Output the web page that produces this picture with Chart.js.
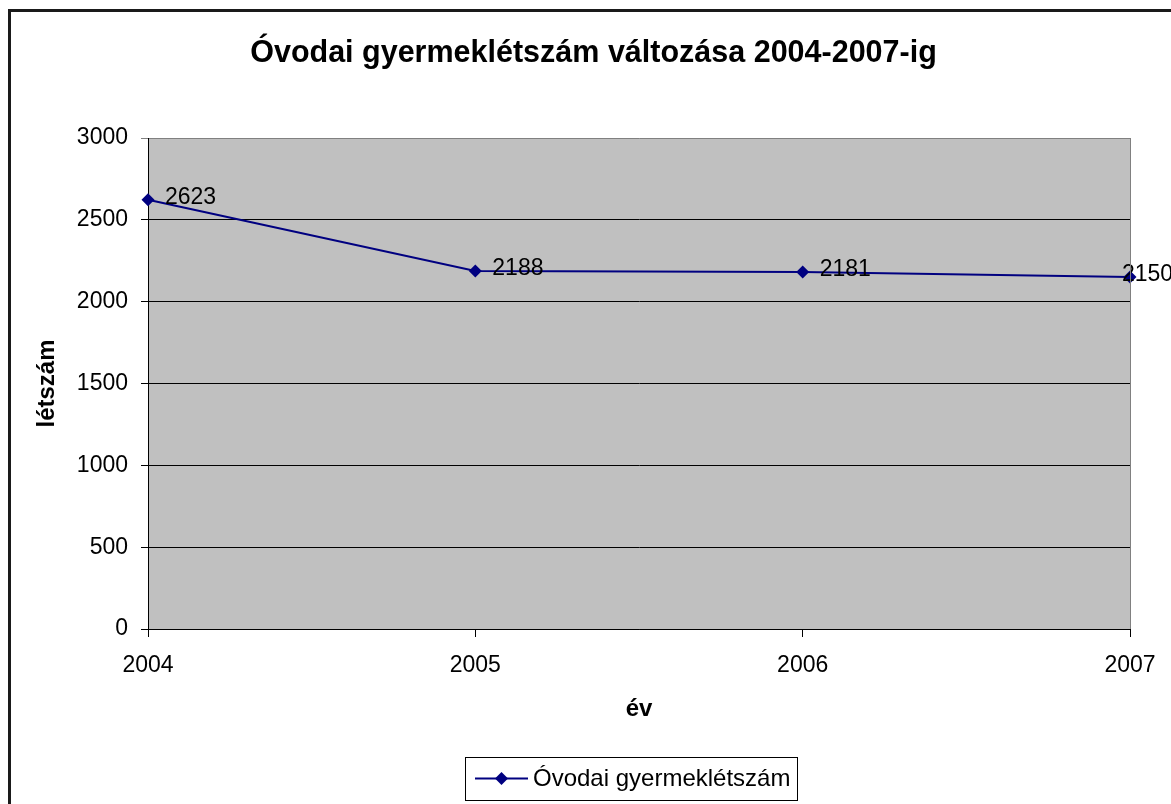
<!DOCTYPE html>
<html>
<head>
<meta charset="utf-8">
<style>
  html, body { margin: 0; padding: 0; background: #ffffff; }
  #wrap { width: 1171px; height: 804px; position: relative; }
</style>
<script src="https://cdn.jsdelivr.net/npm/chart.js@4.4.1/dist/chart.umd.min.js"></script>
</head>
<body>
<div id="wrap"><canvas id="c" width="1171" height="804"></canvas></div>
<script>
const TITLE = 'Óvodai gyermeklétszám változása 2004-2007-ig';
const X_TITLE = 'év';
const Y_TITLE = 'létszám';
const SERIES_LABEL = 'Óvodai gyermeklétszám';
const categories = ['2004', '2005', '2006', '2007'];
const values = [2623, 2188, 2181, 2150];
const yTicks = [0, 500, 1000, 1500, 2000, 2500, 3000];

const FONT = '"Liberation Sans", Arial, sans-serif';
const NAVY = '#000080';

const decor = {
  id: 'decor',
  beforeDraw(chart) {
    const ctx = chart.ctx, a = chart.chartArea;
    ctx.save();
    ctx.fillStyle = '#ffffff';
    ctx.fillRect(0, 0, chart.width, chart.height);
    ctx.fillStyle = '#C0C0C0';
    ctx.fillRect(a.left, a.top, a.right - a.left, a.bottom - a.top);
    ctx.restore();
  },
  afterDraw(chart) {
    const ctx = chart.ctx, a = chart.chartArea;
    ctx.save();
    // plot area right border
    ctx.strokeStyle = '#808080';
    ctx.lineWidth = 1;
    ctx.beginPath();
    ctx.moveTo(Math.round(a.right) + 0.5, a.top);
    ctx.lineTo(Math.round(a.right) + 0.5, a.bottom);
    ctx.stroke();
    // outer frame
    ctx.strokeStyle = '#1a1a1a';
    ctx.lineWidth = 3;
    ctx.beginPath();
    ctx.moveTo(9.5, 820);
    ctx.lineTo(9.5, 10.5);
    ctx.lineTo(1200, 10.5);
    ctx.stroke();
    // title
    ctx.fillStyle = '#000';
    ctx.font = 'bold 30.5px ' + FONT;
    ctx.textAlign = 'center';
    ctx.textBaseline = 'middle';
    ctx.fillText(TITLE, 593.5, 54);
    // legend
    const lx = 465.5, ly = 757.5, lw = 332, lh = 43;
    ctx.strokeStyle = '#000';
    ctx.lineWidth = 1;
    ctx.strokeRect(lx, ly, lw, lh);
    const cy = 778.5;
    ctx.strokeStyle = NAVY;
    ctx.lineWidth = 2;
    ctx.beginPath();
    ctx.moveTo(475, cy);
    ctx.lineTo(528, cy);
    ctx.stroke();
    ctx.fillStyle = NAVY;
    ctx.beginPath();
    ctx.moveTo(501.5, cy - 6.5);
    ctx.lineTo(508, cy);
    ctx.lineTo(501.5, cy + 6.5);
    ctx.lineTo(495, cy);
    ctx.closePath();
    ctx.fill();
    ctx.fillStyle = '#000';
    ctx.font = '24px ' + FONT;
    ctx.textAlign = 'left';
    ctx.textBaseline = 'middle';
    ctx.fillText(chart.data.datasets[0].label, 533, cy + 1);
    ctx.restore();
  },
  afterDatasetsDraw(chart) {
    const ctx = chart.ctx;
    const meta = chart.getDatasetMeta(0);
    const ds = chart.data.datasets[0];
    ctx.save();
    ctx.fillStyle = '#000';
    ctx.font = '23px ' + FONT;
    ctx.textAlign = 'left';
    ctx.textBaseline = 'middle';
    meta.data.forEach((pt, i) => {
      const last = i === meta.data.length - 1;
      const x = last ? pt.x - 8 : pt.x + 17;
      ctx.fillText(String(ds.data[i]), x, pt.y - 2);
    });
    ctx.restore();
  }
};

new Chart(document.getElementById('c'), {
  type: 'line',
  data: {
    labels: categories,
    datasets: [{
      label: SERIES_LABEL,
      data: values,
      borderColor: NAVY,
      backgroundColor: NAVY,
      borderWidth: 2,
      tension: 0,
      pointStyle: 'rectRot',
      pointRadius: 6.5,
      pointHoverRadius: 6.5,
      pointBackgroundColor: NAVY,
      pointBorderColor: NAVY,
      pointBorderWidth: 0,
      clip: false
    }]
  },
  options: {
    responsive: false,
    devicePixelRatio: 1,
    animation: false,
    events: [],
    layout: { padding: { top: 138, left: 8, right: 41, bottom: 75 } },
    plugins: {
      legend: { display: false },
      title: { display: false },
      tooltip: { enabled: false }
    },
    scales: {
      x: {
        type: 'category',
        offset: false,
        afterFit(s) { s.height = 100; },
        grid: {
          display: true,
          drawOnChartArea: false,
          drawTicks: true,
          tickLength: 8,
          color: '#000',
          lineWidth: 1
        },
        border: { display: true, color: '#000', width: 1 },
        ticks: {
          autoSkip: false,
          maxRotation: 0,
          padding: 15,
          color: '#000',
          font: { family: FONT, size: 23 }
        },
        title: {
          display: true,
          text: X_TITLE,
          color: '#000',
          font: { family: FONT, size: 24, weight: 'bold' },
          padding: { top: 0, bottom: 5 }
        }
      },
      y: {
        type: 'linear',
        min: yTicks[0],
        max: yTicks[yTicks.length - 1],
        afterFit(s) { s.width = 140; },
        afterBuildTicks(s) { s.ticks = yTicks.map(v => ({ value: v })); },
        grid: {
          drawTicks: true,
          tickLength: 7,
          color: (c) => (c.tick && c.tick.value === 3000 ? '#808080' : '#000'),
          lineWidth: 1
        },
        border: { display: true, color: '#000', width: 1 },
        ticks: {
          padding: 13,
          color: '#000',
          font: { family: FONT, size: 23 },
          callback: (v) => String(v)
        },
        title: {
          display: true,
          text: Y_TITLE,
          color: '#000',
          font: { family: FONT, size: 24, weight: 'bold' },
          padding: { top: 25, bottom: 0 }
        }
      }
    }
  },
  plugins: [decor]
});
</script>
</body>
</html>
